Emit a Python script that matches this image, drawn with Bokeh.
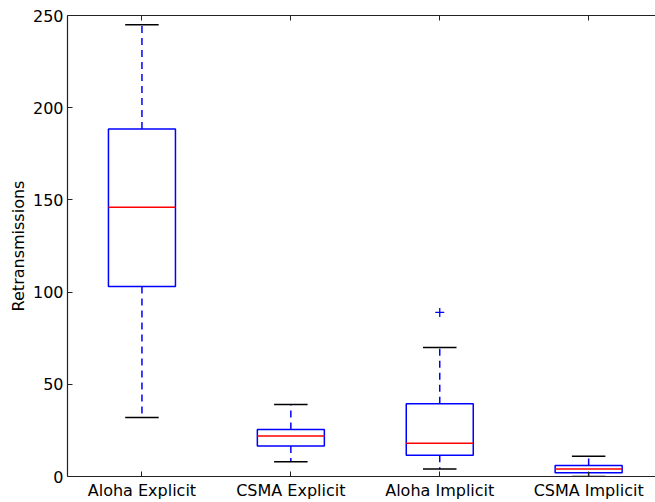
import numpy as np
from bokeh.plotting import figure
from bokeh.models import LinearAxis, FixedTicker, Range1d, ColumnDataSource
from bokeh.embed import file_html
from bokeh.resources import INLINE

categories = ["Aloha Explicit", "CSMA Explicit", "Aloha Implicit", "CSMA Implicit"]
lower_whisker = [32, 8, 4, 0]
q1 = [103, 16.5, 11.5, 2]
median = [146, 22, 18, 4]
q3 = [188.5, 25.5, 39.5, 6]
upper_whisker = [245, 39, 70, 11]
outlier_cat = ["Aloha Implicit"]
outlier_val = [89]
y_ticks = [0, 50, 100, 150, 200, 250]

pos = np.arange(1, len(categories) + 1)
box_w = 0.45
cap_w = box_w / 2

src = ColumnDataSource(dict(
    x=pos, left=pos - box_w / 2, right=pos + box_w / 2,
    cl=pos - cap_w / 2, cr=pos + cap_w / 2,
    lw=lower_whisker, q1=q1, med=median, q3=q3, uw=upper_whisker,
))

FONT = "DejaVu Sans"

p = figure(width=655, height=502, x_range=Range1d(0.5, 4.449), y_range=Range1d(0, 250),
           output_backend="svg", toolbar_location=None,
           min_border_left=67, min_border_right=0, min_border_top=15, min_border_bottom=26,
           outline_line_color=None, background_fill_color="white", border_fill_color="white")
p.xgrid.visible = False
p.ygrid.visible = False

def style_axis(ax):
    ax.major_tick_in = 5
    ax.major_tick_out = 0
    ax.minor_tick_line_color = None
    ax.axis_line_color = "#222222"
    ax.axis_line_width = 1.2
    ax.major_tick_line_color = "#222222"
    ax.major_label_text_font = FONT
    ax.major_label_text_font_size = "16px"
    ax.major_label_text_color = "black"

yax = p.yaxis[0]
yax.ticker = FixedTicker(ticks=y_ticks)
style_axis(yax)
yax.major_label_standoff = 4
yax.axis_label = "Retransmissions"
yax.axis_label_text_font = FONT
yax.axis_label_text_font_size = "16px"
yax.axis_label_text_font_style = "normal"
yax.axis_label_text_color = "black"
yax.axis_label_standoff = 2

xax = p.xaxis[0]
xax.ticker = FixedTicker(ticks=list(pos))
style_axis(xax)
xax.major_label_overrides = {int(i): c for i, c in zip(pos, categories)}
xax.major_label_standoff = 4

top = LinearAxis(ticker=FixedTicker(ticks=list(pos)))
style_axis(top)
top.major_label_overrides = {int(i): "" for i in pos}
top.major_label_standoff = 0
p.add_layout(top, "above")

# boxes
p.quad(left="left", right="right", bottom="q1", top="q3", source=src,
       fill_color=None, line_color="#0000ff", line_width=1.5)
# whiskers
p.segment(x0="x", y0="q3", x1="x", y1="uw", source=src, line_color="#0000ff",
          line_width=1.5, line_dash="7 5")
p.segment(x0="x", y0="q1", x1="x", y1="lw", source=src, line_color="#0000ff",
          line_width=1.5, line_dash="7 5")
# caps
p.segment(x0="cl", y0="uw", x1="cr", y1="uw", source=src, line_color="black", line_width=1.5)
p.segment(x0="cl", y0="lw", x1="cr", y1="lw", source=src, line_color="black", line_width=1.5)
# medians
p.segment(x0="left", y0="med", x1="right", y1="med", source=src, line_color="#ff0000", line_width=1.5)
# outliers
ox = [categories.index(c) + 1 for c in outlier_cat]
p.scatter(x=ox, y=outlier_val, marker="cross", size=9, line_color="#0000ff", line_width=1.3)

open("out.html", "w").write(file_html(p, INLINE))
